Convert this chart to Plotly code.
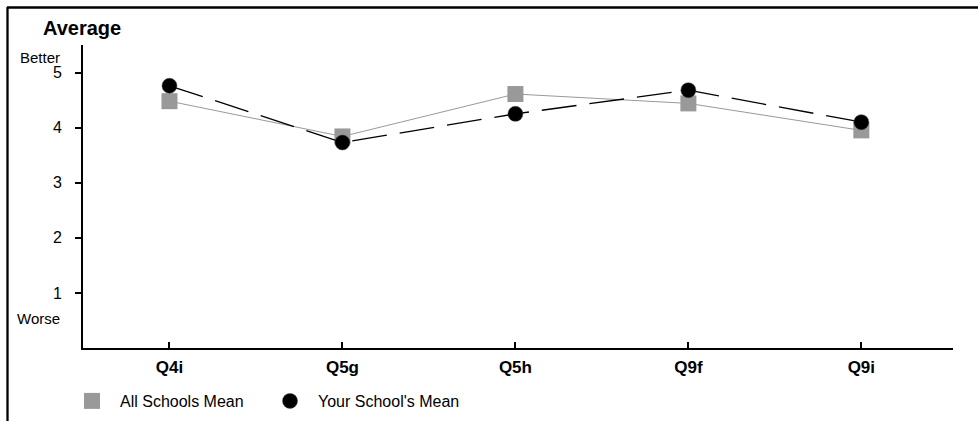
import plotly.graph_objects as go

categories = ["Q4i", "Q5g", "Q5h", "Q9f", "Q9i"]
all_schools_mean = [4.48, 3.84, 4.61, 4.44, 3.95]
your_school_mean = [4.76, 3.73, 4.25, 4.68, 4.10]
y_tick_vals = [1, 2, 3, 4, 5]
y_tick_text = ["1", "2", "3", "4", "5"]

# page body margin is removed below, so figure pixels == page pixels
W, H = 978, 421
L, T = 83, 45
R = W - 953
B = H - 348
PW = W - L - R
PH = H - T - B

def px_x(p):
    return (p - L) / PW

def px_y(p):
    return (H - B - p) / PH

def cx(p):
    return p / W

def cy(p):
    return (H - p) / H

FONT = "Liberation Sans, Arial, sans-serif"
GRAY = "#999999"

fig = go.Figure()
fig.add_trace(go.Scatter(
    x=categories, y=all_schools_mean, mode="lines", showlegend=False,
    line=dict(color=GRAY, width=1), hoverinfo="skip",
))
fig.add_trace(go.Scatter(
    x=categories, y=all_schools_mean, name="All Schools Mean", mode="markers",
    marker=dict(symbol="square", size=16, color=GRAY),
))
fig.add_trace(go.Scatter(
    x=categories, y=your_school_mean, mode="lines", showlegend=False,
    line=dict(color="black", width=1.3, dash="35px,13px"), hoverinfo="skip",
))
fig.add_trace(go.Scatter(
    x=categories, y=your_school_mean, name="Your School's Mean", mode="markers",
    marker=dict(symbol="circle", size=15, color="black",
                line=dict(color="#444444", width=0.5)),
))

fig.update_layout(
    template="none",
    width=W, height=H,
    margin=dict(l=L, r=R, t=T, b=B, pad=0, autoexpand=False),
    paper_bgcolor="white", plot_bgcolor="white",
    font=dict(family=FONT, color="black"),
    showlegend=True,
    legend=dict(
        orientation="h", x=cx(64), y=cy(401), xanchor="left", yanchor="middle",
        xref="container", yref="container",
        font=dict(size=16, family=FONT),
        itemwidth=46,
        entrywidth=137, entrywidthmode="pixels",
        itemclick=False, bgcolor="rgba(0,0,0,0)", borderwidth=0,
    ),
    xaxis=dict(
        type="category", range=[-0.5, 4.53], automargin=False,
        showline=True, linecolor="black", linewidth=2,
        ticks="inside", ticklen=6, tickwidth=2, tickcolor="black",
        showgrid=False, zeroline=False,
        tickfont=dict(size=17, family=FONT, weight="bold"),
        ticklabelstandoff=3,
    ),
    yaxis=dict(
        range=[0, 5.5], automargin=False,
        tickvals=y_tick_vals, ticktext=y_tick_text,
        showline=True, linecolor="black", linewidth=2,
        ticks="outside", ticklen=6, tickwidth=2, tickcolor="black",
        showgrid=False, zeroline=False,
        tickfont=dict(size=16, family=FONT),
        ticklabelstandoff=10,
    ),
    shapes=[
        dict(type="line", xref="paper", yref="paper",
             x0=px_x(7), x1=px_x(978), y0=px_y(7.5), y1=px_y(7.5),
             line=dict(color="black", width=2.3)),
        dict(type="line", xref="paper", yref="paper",
             x0=px_x(7.5), x1=px_x(7.5), y0=px_y(7), y1=px_y(421),
             line=dict(color="black", width=2.3)),
    ],
    annotations=[
        dict(text="<b>Average</b>", xref="paper", yref="paper",
             x=px_x(41), y=px_y(28), xanchor="left", yanchor="middle",
             showarrow=False, font=dict(size=20, family=FONT)),
        dict(text="Better", xref="paper", yref="paper",
             x=px_x(62), y=px_y(57), xanchor="right", yanchor="middle",
             showarrow=False, font=dict(size=15, family=FONT)),
        dict(text="Worse", xref="paper", yref="paper",
             x=px_x(62), y=px_y(318), xanchor="right", yanchor="middle",
             showarrow=False, font=dict(size=15, family=FONT)),
    ],
)

fig.write_html(
    "out.html",
    config={"displayModeBar": False},
    post_script="document.body.style.margin='0px';document.body.style.overflow='hidden';",
)
